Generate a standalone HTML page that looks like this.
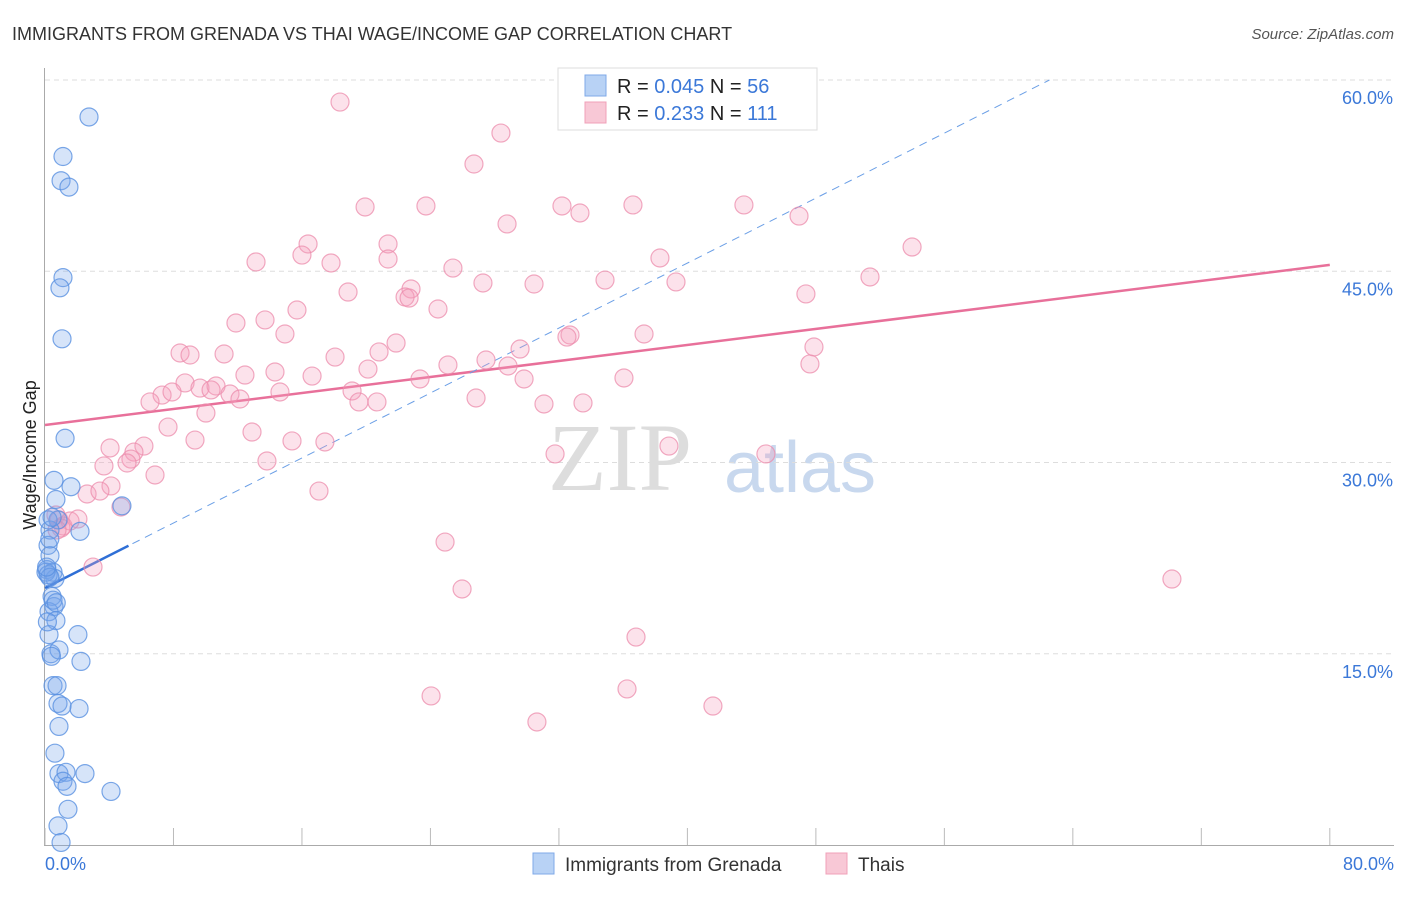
<!DOCTYPE html>
<html><head><meta charset="utf-8"><style>
body{margin:0;background:#fff;font-family:"Liberation Sans",sans-serif}
</style></head><body>
<svg id="chart" width="1406" height="892" xmlns="http://www.w3.org/2000/svg" style="font-family:'Liberation Sans',sans-serif">
<text x="12" y="40" font-size="18" fill="#333">IMMIGRANTS FROM GRENADA VS THAI WAGE/INCOME GAP CORRELATION CHART</text>
<text x="1394" y="39" font-size="15" fill="#555" text-anchor="end" font-style="italic">Source: ZipAtlas.com</text>
<text x="36" y="455" font-size="18" fill="#222" text-anchor="middle" transform="rotate(-90 36 455)">Wage/Income Gap</text>
<text x="620" y="490" font-size="96" fill="#ddd" font-family="Liberation Serif" text-anchor="middle">ZIP</text>
<text x="800" y="492" font-size="72" fill="#c8d8ee" text-anchor="middle">atlas</text>
<g id="grid"></g>
<g id="axes"></g>
<g id="lines"></g>
<g id="pts"></g>
<g>
<rect x="558" y="68" width="259" height="62" fill="#fff" stroke="#ddd"/>
<rect x="585" y="75" width="21" height="21" fill="#b8d2f5" stroke="#7fa9e8"/>
<rect x="585" y="102" width="21" height="21" fill="#f8c8d6" stroke="#f0a0b8"/>
<text x="617" y="93" font-size="20" fill="#222">R = <tspan fill="#3b78d8">0.045</tspan>   N = <tspan fill="#3b78d8">56</tspan></text>
<text x="617" y="120" font-size="20" fill="#222">R =  <tspan fill="#3b78d8">0.233</tspan>   N = <tspan fill="#3b78d8">111</tspan></text>
</g>
<g>
<rect x="533" y="853" width="21" height="21" fill="#b8d2f5" stroke="#7fa9e8"/>
<text x="565" y="871" font-size="19" fill="#333">Immigrants from Grenada</text>
<rect x="826" y="853" width="21" height="21" fill="#f8c8d6" stroke="#f0a0b8"/>
<text x="858" y="871" font-size="19" fill="#333">Thais</text>
</g>
</svg>
<script>
const blueX=[2.74,1.12,1.0,1.49,1.12,0.93,1.06,1.25,0.56,1.62,0.68,0.81,4.79,2.18,0.31,0.19,0.31,0.12,0.5,0.62,0.44,0.56,0.25,0.68,0.25,2.05,0.37,0.87,2.24,0.5,0.75,0.81,2.12,1.06,0.87,0.62,0.87,1.31,2.49,1.12,1.37,4.11,1.43,0.81,1.0,0.06,0.19,0.44,0.2,0.3,0.1,0.5,0.15,0.4,0.7,0.3];
const blueY=[57.1,54.0,52.1,51.6,44.5,43.7,39.7,31.9,28.6,28.1,27.1,25.5,26.6,24.6,24.7,23.5,22.7,21.6,21.4,20.9,19.5,18.7,18.3,17.6,16.5,16.5,15.0,15.3,14.4,12.5,12.5,11.1,10.7,10.9,9.3,7.2,5.6,5.7,5.6,5.0,4.6,4.2,2.8,1.5,0.2,21.4,25.5,25.7,21.2,21.0,21.8,19.2,17.5,14.8,19.0,24.0];
const pinkX=[18.37,28.39,26.71,19.93,23.72,32.19,33.31,36.61,43.52,28.77,46.95,53.99,16.38,21.36,16.0,13.14,17.81,21.36,25.4,38.29,27.27,30.45,34.87,39.29,51.37,18.87,47.38,22.79,22.42,22.67,15.69,24.47,11.89,13.7,14.94,32.69,32.5,37.3,21.86,29.58,47.88,8.41,9.03,11.15,18.06,20.8,27.46,25.09,28.83,47.63,12.45,14.32,20.11,16.63,23.35,29.83,36.05,8.72,9.65,10.65,7.29,7.91,11.52,10.34,12.14,14.63,19.12,19.55,20.67,26.84,6.54,31.07,33.5,10.02,7.66,12.89,9.34,15.38,17.43,4.05,6.16,5.54,3.67,5.35,5.11,13.82,31.76,38.85,44.89,6.85,4.11,2.62,3.42,17.06,4.73,0.68,0.87,1.12,1.56,2.05,1.0,0.75,2.99,24.91,25.97,70.17,36.8,24.04,36.24,41.59,30.63];
const pinkY=[58.27,55.84,53.41,50.04,50.12,50.12,49.57,50.2,50.2,48.71,49.33,46.9,47.14,47.14,46.27,45.73,45.65,45.96,45.25,46.04,44.08,44.0,44.31,44.16,44.55,43.37,43.22,43.61,42.98,42.9,41.96,42.04,40.94,41.18,40.08,40.0,39.84,40.08,39.37,38.9,39.06,38.59,38.43,38.51,38.27,38.67,38.04,37.65,37.57,37.73,36.86,37.1,37.33,36.78,36.55,36.55,36.63,36.24,35.84,36.0,35.29,35.53,35.37,35.69,34.98,35.53,35.61,34.75,34.75,35.06,34.75,34.59,34.67,33.88,32.78,32.39,31.76,31.69,31.61,31.14,31.29,30.82,29.73,30.27,29.96,30.12,30.67,31.29,30.67,29.02,28.16,27.53,27.76,27.76,26.51,25.88,25.49,25.02,25.41,25.57,24.86,24.71,21.8,23.76,20.08,20.86,16.31,11.69,12.24,10.9,9.65];
const yTicks=[15,30,45,60];
const xTickVals=[0,10,20,30,40,50,60,70,80];
const blueTrend=[20.16,0.637];
const pinkTrend=[32.94,0.157];
const NS="http://www.w3.org/2000/svg";
const sx=v=>45+v*16.06, sy=v=>845-v*12.75;
function mk(t,a,p){const e=document.createElementNS(NS,t);for(const k in a)e.setAttribute(k,a[k]);document.getElementById(p).appendChild(e);return e;}
yTicks.forEach(v=>{
 const l=mk('line',{x1:45,x2:1394,y1:sy(v),y2:sy(v),stroke:'#ddd','stroke-dasharray':'5,4'},'grid');
 
 
 const t=mk('text',{x:1393,y:sy(v)+24,'font-size':18,fill:'#3b78d8','text-anchor':'end'},'grid');
 t.textContent=v.toFixed(1)+'%';
 
 
});
const ax=mk('line',{x1:44.5,x2:44.5,y1:68,y2:845,stroke:'#aaa'},'axes');


const bx=mk('line',{x1:44,x2:1394,y1:845.5,y2:845.5,stroke:'#aaa'},'axes');


for(let i=0;i<=10;i++){const x=sx(i*8);
 const tk=mk('line',{x1:x,x2:x,y1:828,y2:845,stroke:'#bbb'},'axes');
 
 }
[[0,'start',45],[80,'end',1394]].forEach(([v,a,x])=>{
 const t=mk('text',{x:x,y:870,'font-size':18,fill:'#3b78d8','text-anchor':a},'axes');
 t.textContent=v.toFixed(1)+'%';
 
 });
// trend lines
const pl=mk('line',{x1:sx(0),y1:sy(pinkTrend[0]),x2:sx(80),y2:sy(pinkTrend[0]+80*pinkTrend[1]),stroke:'#e8709a','stroke-width':2.5},'lines');


const xEnd=(60-blueTrend[0])/blueTrend[1];
const bd=mk('line',{x1:sx(0),y1:sy(blueTrend[0]),x2:sx(xEnd),y2:sy(60),stroke:'#6b9fe6','stroke-width':1,'stroke-dasharray':'8,6'},'lines');


const bs=mk('line',{x1:sx(0),y1:sy(blueTrend[0]),x2:sx(5.2),y2:sy(blueTrend[0]+5.2*blueTrend[1]),stroke:'#2f6fd6','stroke-width':2.5},'lines');


pinkX.forEach((x,i)=>{
 const c=mk('circle',{cx:sx(x),cy:sy(pinkY[i]),r:9,fill:'rgba(244,160,188,0.3)',stroke:'rgba(236,140,172,0.75)','stroke-width':1.2},'pts');
 
 });
blueX.forEach((x,i)=>{
 const c=mk('circle',{cx:sx(x),cy:sy(blueY[i]),r:9,fill:'rgba(120,165,235,0.3)',stroke:'rgba(90,145,225,0.8)','stroke-width':1.2},'pts');
 
 });
</script>
</body></html>
